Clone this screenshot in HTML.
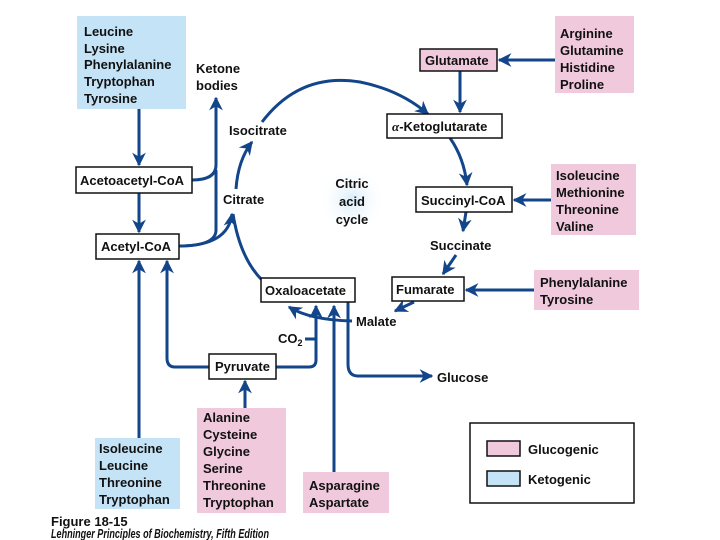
<!DOCTYPE html>
<html><head><meta charset="utf-8"><style>
body{margin:0;background:#fff}
svg{display:block}
text{font-family:"Liberation Sans",sans-serif;font-weight:bold;font-size:13px;fill:#111}
</style></head><body>
<svg width="720" height="540" viewBox="0 0 720 540" xmlns="http://www.w3.org/2000/svg">
<defs>
<marker id="a" viewBox="0 0 10 10" refX="9" refY="5" markerWidth="4.6" markerHeight="4.6" orient="auto-start-reverse" markerUnits="strokeWidth">
<path d="M0,0 L10,5 L0,10 L3,5 z" fill="#12458a"/></marker>
<radialGradient id="g"><stop offset="0" stop-color="#d6ecfa"/><stop offset="1" stop-color="#fff" stop-opacity="0"/></radialGradient>
</defs>
<ellipse cx="352" cy="200" rx="34" ry="34" fill="url(#g)"/>
<rect x="77" y="16" width="109" height="93" fill="#c4e3f7"/>
<rect x="555" y="16" width="79" height="77" fill="#f0c9dd"/>
<rect x="551" y="164" width="85" height="71" fill="#f0c9dd"/>
<rect x="534" y="270" width="105" height="40" fill="#f0c9dd"/>
<rect x="197" y="408" width="89" height="105" fill="#f0c9dd"/>
<rect x="95" y="438" width="85" height="71" fill="#c4e3f7"/>
<rect x="303" y="472" width="86" height="41" fill="#f0c9dd"/>

<g fill="none" stroke="#12458a" stroke-width="3">
<path d="M139,109 V165" marker-end="url(#a)"/>
<path d="M139,193 V232" marker-end="url(#a)"/>
<path d="M192,180 Q216,180 216,165 V98" marker-end="url(#a)"/>
<path d="M179,246 Q216,246 216,230 V170"/>
<path d="M179,246 Q228,246 232,214" marker-end="url(#a)"/>
<path d="M262,280 Q240,258 233,214"/>
<path d="M236,189 Q238,160 252,142" marker-end="url(#a)"/>
<path d="M262,122 Q300,72 360,82 Q400,90 428,114" marker-end="url(#a)"/>
<path d="M460,71 V112" marker-end="url(#a)"/>
<path d="M555,60 H499" marker-end="url(#a)"/>
<path d="M450,138 Q464,158 467,185" marker-end="url(#a)"/>
<path d="M551,200 H514" marker-end="url(#a)"/>
<path d="M466,212 L463,231" marker-end="url(#a)"/>
<path d="M456,255 L443,274" marker-end="url(#a)"/>
<path d="M534,290 H466" marker-end="url(#a)"/>
<path d="M414,302 L395,311" marker-end="url(#a)"/>
<path d="M352,321 Q310,320 289,307" marker-end="url(#a)"/>
<path d="M276,367 H309 Q316,367 316,360 V306" marker-end="url(#a)"/>
<path d="M305,339 H316"/>
<path d="M334,472 V306" marker-end="url(#a)"/>
<path d="M348,302 V364 Q348,376 358,376 H432" marker-end="url(#a)"/>
<path d="M209,367 H175 Q167,367 167,358 V261" marker-end="url(#a)"/>
<path d="M139,438 V261" marker-end="url(#a)"/>
<path d="M245,408 V381" marker-end="url(#a)"/>
</g>

<g fill="#fff" stroke="#111" stroke-width="1.5">
<rect x="76" y="167" width="116" height="26"/>
<rect x="96" y="234" width="83" height="25"/>
<rect x="387" y="114" width="115" height="24"/>
<rect x="416" y="187" width="96" height="25"/>
<rect x="261" y="278" width="94" height="24"/>
<rect x="392" y="277" width="72" height="24"/>
<rect x="209" y="354" width="67" height="25"/>
<rect x="420" y="49" width="77" height="22" fill="#f0c9dd"/>
<rect x="470" y="423" width="164" height="80"/>
<rect x="487" y="441" width="33" height="15" fill="#f0c9dd"/>
<rect x="487" y="471" width="33" height="15" fill="#c4e3f7"/>
</g>

<text x="84" y="36">Leucine</text><text x="84" y="53">Lysine</text><text x="84" y="69">Phenylalanine</text><text x="84" y="86">Tryptophan</text><text x="84" y="103">Tyrosine</text>
<text x="196" y="73">Ketone</text><text x="196" y="90">bodies</text>
<text x="425" y="65">Glutamate</text>
<text x="560" y="38">Arginine</text><text x="560" y="55">Glutamine</text><text x="560" y="72">Histidine</text><text x="560" y="89">Proline</text>
<text x="392" y="131"><tspan font-family="Liberation Serif" font-style="italic">α</tspan>-Ketoglutarate</text>
<text x="229" y="135">Isocitrate</text>
<text x="80" y="185">Acetoacetyl-CoA</text>
<text x="223" y="204">Citrate</text>
<text x="352" y="188" text-anchor="middle" font-size="14">Citric</text><text x="352" y="206" text-anchor="middle" font-size="14">acid</text><text x="352" y="224" text-anchor="middle" font-size="14">cycle</text>
<text x="421" y="205">Succinyl-CoA</text>
<text x="556" y="180">Isoleucine</text><text x="556" y="197">Methionine</text><text x="556" y="214">Threonine</text><text x="556" y="231">Valine</text>
<text x="101" y="251">Acetyl-CoA</text>
<text x="430" y="250">Succinate</text>
<text x="265" y="295">Oxaloacetate</text>
<text x="396" y="294">Fumarate</text>
<text x="540" y="287">Phenylalanine</text><text x="540" y="304">Tyrosine</text>
<text x="356" y="326">Malate</text>
<text x="278" y="343">CO<tspan font-size="9" dy="3">2</tspan></text>
<text x="215" y="371">Pyruvate</text>
<text x="437" y="382">Glucose</text>
<text x="203" y="422">Alanine</text><text x="203" y="439">Cysteine</text><text x="203" y="456">Glycine</text><text x="203" y="473">Serine</text><text x="203" y="490">Threonine</text><text x="203" y="507">Tryptophan</text>
<text x="99" y="453">Isoleucine</text><text x="99" y="470">Leucine</text><text x="99" y="487">Threonine</text><text x="99" y="504">Tryptophan</text>
<text x="309" y="490">Asparagine</text><text x="309" y="507">Aspartate</text>
<text x="528" y="454" font-size="14">Glucogenic</text>
<text x="528" y="484" font-size="14">Ketogenic</text>
<text x="51" y="526" font-size="12">Figure 18-15</text>
<text x="51" y="538" font-size="8" font-style="italic" textLength="218" lengthAdjust="spacingAndGlyphs">Lehninger Principles of Biochemistry, Fifth Edition</text>
</svg>
</body></html>
